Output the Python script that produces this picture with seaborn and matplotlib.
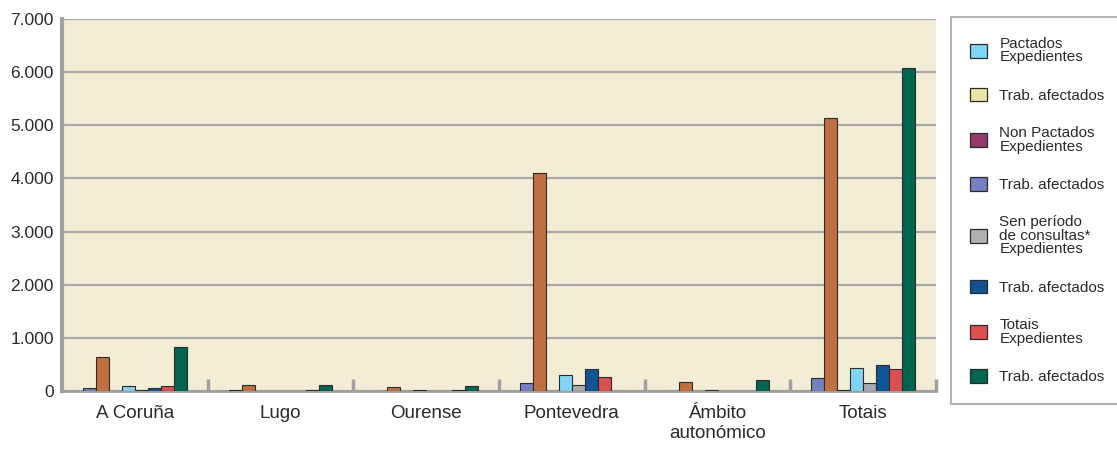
import numpy as np
import pandas as pd
import seaborn as sns
import matplotlib.pyplot as plt
from matplotlib.patches import Patch
from matplotlib.ticker import FuncFormatter, FixedLocator

# Data
provincias = ['A Coruña', 'Lugo', 'Ourense', 'Pontevedra', 'Ámbito\nautonómico', 'Totais']
series = ['Pactados Exp', 'Pactados Trab', 'Non Pactados Exp', 'Non Pactados Trab',
          'Sen periodo Exp', 'Sen periodo Trab', 'Totais Exp', 'Totais Trab']
pactados_exp = [60, 20, 10, 150, 5, 245]
pactados_trab = [650, 120, 70, 4110, 170, 5130]
non_pactados_exp = [10, 5, 5, 10, 5, 15]
non_pactados_trab = [100, 5, 15, 310, 20, 440]
sen_periodo_exp = [20, 10, 5, 115, 5, 145]
sen_periodo_trab = [60, 5, 5, 410, 5, 485]
totais_exp = [100, 25, 15, 270, 5, 410]
totais_trab = [820, 115, 100, 10, 200, 6080]

bar_colors = ['#7480C0', '#C0703F', '#933A6B', '#80D4F6',
              '#ABABAF', '#0E5497', '#DB4F4F', '#00664F']
legend_labels = ['Pactados\nExpedientes', 'Trab. afectados', 'Non Pactados\nExpedientes',
                 'Trab. afectados', 'Sen período\nde consultas*\nExpedientes',
                 'Trab. afectados', 'Totais\nExpedientes', 'Trab. afectados']
legend_colors = ['#80D4F6', '#EDE6A3', '#933A6B', '#7480C0',
                 '#B0B0B3', '#0E5497', '#DD5050', '#006650']

values = [pactados_exp, pactados_trab, non_pactados_exp, non_pactados_trab,
          sen_periodo_exp, sen_periodo_trab, totais_exp, totais_trab]
rows = []
for s, vals in zip(series, values):
    for p, v in zip(provincias, vals):
        rows.append({'provincia': p, 'serie': s, 'valor': v})
df = pd.DataFrame(rows)

sns.set_style('white')
plt.rcParams['font.family'] = ['Liberation Sans', 'DejaVu Sans']

fig = plt.figure(figsize=(11.17, 4.49), dpi=100)
ax = fig.add_axes([0.0555, 0.129, 0.7825, 0.829])
ax.set_facecolor('#F2EDD4')

sns.barplot(data=df, x='provincia', y='valor', hue='serie', order=provincias,
            hue_order=series, palette=bar_colors, saturation=1, width=0.71, gap=0,
            edgecolor='#2b2b2b', linewidth=0.8, legend=False, ax=ax, zorder=3)

ax.set_ylim(0, 7000)
ax.set_xlim(-0.5, len(provincias) - 0.5)
ax.set_yticks(range(0, 7001, 1000))
ax.yaxis.set_major_formatter(FuncFormatter(lambda v, p: f'{int(v):,}'.replace(',', '.')))
ax.grid(axis='y', color='#A8A8A8', linewidth=1.6, zorder=1)
ax.set_axisbelow(True)
ax.set_xlabel('')
ax.set_ylabel('')

for side in ['top', 'right']:
    ax.spines[side].set_visible(False)
ax.spines['left'].set_color('#A0A0A0')
ax.spines['left'].set_linewidth(3)
ax.spines['bottom'].set_color('#A0A0A0')
ax.spines['bottom'].set_linewidth(2)

ax.tick_params(axis='y', length=0, pad=6, labelsize=12.5, labelcolor='#2a2a2a')
ax.tick_params(axis='x', which='major', length=0, pad=10, labelsize=13.5, labelcolor='#2a2a2a')
for t in ax.get_xticklabels():
    t.set_linespacing(1.25)
ax.xaxis.set_minor_locator(FixedLocator(np.arange(0.5, len(provincias), 1.0)))
ax.tick_params(axis='x', which='minor', bottom=True, direction='in', length=9,
               width=2.5, color='#A0A0A0')

handles = [Patch(facecolor=c, edgecolor='#2b2b2b', linewidth=0.9) for c in legend_colors]
leg = fig.legend(handles, legend_labels, loc='upper left', bbox_to_anchor=(0.851, 0.962),
                 fontsize=11, frameon=True, fancybox=False, labelspacing=1.53,
                 handlelength=1.1, handleheight=1.0, handletextpad=0.8,
                 borderpad=1.3, borderaxespad=0)
leg.get_frame().set_edgecolor('#A0A0A0')
leg.get_frame().set_linewidth(1.5)
for t in leg.get_texts():
    t.set_linespacing(0.95)
    t.set_color('#2a2a2a')

fig.savefig('out.png', dpi=100)
